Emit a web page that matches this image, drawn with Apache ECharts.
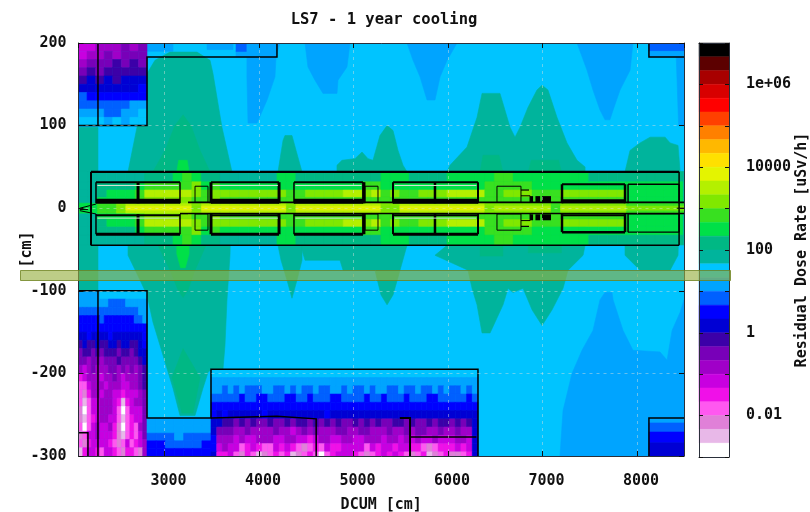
<!DOCTYPE html>
<html><head><meta charset="utf-8">
<style>html,body{margin:0;padding:0;background:#fff}#c{width:810px;height:512px}</style>
<script src="https://cdn.jsdelivr.net/npm/echarts@6/dist/echarts.min.js"></script>
</head><body><div id="c"></div>
<script>
const titleText = 'LS7 - 1 year cooling';
const xName = 'DCUM [cm]', yName = '[cm]', barName = 'Residual Dose Rate [uSv/h]';
// colour-bar bands top to bottom; one band = one third of a decade
const bandColors = ['#000000','#5c0000','#a80000','#d80000','#ff0000','#ff4000','#ff8000','#ffb800','#ffe000','#e4f400','#b4f000','#80e800','#38e020','#00e048','#00b884','#00b49c','#00c4ff','#00a4ff','#0060ff','#0000ff','#0000d4','#3c00a8','#7800b8','#a000c8','#c800e0','#f010e8','#ff58f0','#e080d8','#e8b8e8','#ffffff'];
// level letters, base 30: index into bandColors. f teal, g cyan, h light blue ...
const baseLevel = 'g';

// ---- contour regions [x cm, y cm]
const tealWall = [[2090,98],[2296,98],[2296,-100],[2090,-100]];
const tealHump1 = [[2614,44],[2709,98],[2815,163],[2899,179],[3058,189],[3344,189],[3482,179],[3513,163],[3608,98],[3714,44],[3693,-57],[3661,-111],[3640,-166],[3619,-195],[3492,-195],[3460,-199],[3407,-218],[3323,-251],[3164,-251],[3090,-218],[2984,-178],[2878,-138],[2815,-105],[2741,-87],[2614,-57]];
const tealHump2 = [[4201,44],[4254,82],[4275,88],[4349,88],[4392,70],[4455,44],[4455,-63],[4402,-87],[4349,-109],[4296,-87],[4233,-63],[4201,-45]];
const tealHump3 = [[4825,44],[4825,52],[4878,58],[5016,60],[5090,68],[5153,60],[5206,58],[5280,88],[5355,100],[5418,94],[5471,70],[5524,52],[5566,44],[5566,-45],[5492,-75],[5418,-105],[5355,-117],[5291,-105],[5227,-75],[4889,-75],[4857,-63],[4487,-63],[4455,-51],[4455,-45]];
const tealHump4 = [[5990,44],[6021,52],[6201,74],[6307,110],[6360,139],[6550,139],[6656,98],[6709,86],[6762,98],[6846,122],[6941,143],[6995,149],[7058,143],[7153,110],[7259,79],[7365,58],[7450,50],[7450,-45],[7429,-57],[7270,-75],[7217,-97],[7101,-123],[6995,-142],[6889,-123],[6794,-97],[6688,-102],[6635,-97],[6582,-117],[6445,-151],[6360,-151],[6307,-117],[6254,-97],[6211,-75],[5862,-57],[5990,-45]];
const tealHump5 = [[7873,44],[7926,70],[8032,79],[8138,86],[8297,86],[8350,79],[8434,76],[8456,44],[8434,-57],[8350,-75],[8032,-75],[7873,-57]];
const greenHump1 = [[2878,44],[3005,70],[3111,100],[3196,113],[3280,100],[3376,70],[3482,44],[3439,-45],[3323,-75],[3249,-99],[3196,-108],[3143,-99],[3058,-75],[2931,-45]];
const greenHump1Low = [[3196,-170],[3376,-205],[3302,-248],[3185,-248],[3080,-205]];
const greenHump4a = [[6340,44],[6370,64],[6540,64],[6580,44],[6580,-58],[6340,-58]];
const greenHump4b = [[6850,44],[6880,58],[7170,58],[7200,44],[7200,-54],[6850,-54]];
const brightCol1 = [[3130,44],[3150,58],[3240,58],[3260,44],[3260,-55],[3220,-72],[3170,-72],[3130,-55]];
const blueTop1 = [[3872,200],[4222,200],[4180,183],[4169,159],[4085,131],[3979,103],[3884,103],[3872,159]];
const blueTop2 = [[4487,200],[4963,200],[4931,171],[4836,155],[4825,139],[4677,139],[4592,155],[4518,171]];
const blueTop3 = [[5566,200],[6095,200],[5990,179],[5916,159],[5862,131],[5778,131],[5704,159],[5630,179]];
const blueTop4 = [[7365,200],[7957,200],[7926,167],[7820,143],[7747,119],[7713,107],[7661,107],[7608,119],[7534,143],[7471,167]];
const blueRight = [[8415,183],[8497,183],[8497,100],[8440,100]];
const blueBottom = [[7185,-300],[7217,-245],[7312,-200],[7418,-172],[7534,-148],[7608,-111],[7661,-102],[7735,-102],[7747,-111],[7852,-148],[7957,-172],[8243,-174],[8318,-184],[8371,-148],[8456,-126],[8497,-111],[8497,-300]];
const contourRegions = [
  ['h',blueTop1],['h',blueTop2],['h',blueTop3],['h',blueTop4],['h',blueRight],['h',blueBottom],
  ['f',tealWall],['f',tealHump1],['f',tealHump2],['f',tealHump3],['f',tealHump4],['f',tealHump5],
  ['e',greenHump1],['e',greenHump1Low],['e',greenHump4a],['e',greenHump4b],['d',brightCol1]
];
// [x0,x1,yTop,yBottom,level]
const stripPatches = [
  [2815,3090,200,190,'h'],[3450,3725,200,192,'h'],[3757,4190,200,189,'i'],[3757,4190,189,183,'h'],
  [8126,8497,200,190,'i'],[8126,8497,190,183,'h'],
  [8126,8497,-254,-260,'h'],[8126,8497,-260,-271,'i'],[8126,8497,-271,-284,'j'],[8126,8497,-284,-300,'k']
];

// ---- noisy shielded boxes, one string per 10 cm row
const boxTopLeft = {x:2090,dx:90.6,y:200,dy:10,rows:[
 'oonnnmnm','onnmnmmm','nmmmlmlm','mlmlllll','lklklkkk','kkkkkkkj','ijjjjjjj','iiiiiihh','hhhiihhg','ggghghgg']};
const boxBottomLeft = {x:2090,dx:45.3,y:-100,dy:10,rows:[
 'hhhhhggggggggggg','hhhhhhhiiiihhhhh','iiiiiiiiiiiiiihh','jjjjjijjjjjjjiih','jjjjjjjjjjjjjjjj',
 'kkjkkkkjkkkkkkkj','lkllkllkklkkllkj','mllmlmlllmllmlkk','mmnmmnmmmlmmmmlk','nonmnnnmmnmnmnml',
 'ponnnonnmnonnnml','qqonnnonnnoonnml','qrpnnonnoopooonm','qsqoonnnopsponnm','rtqoonnnoqtqooom',
 'rsqponnooqsqpoom','qtqonoonprtqpqnm','rqoonoooprsqpqom','qrpoooopqrqoqpon','spoopqoopqrppqrn']};
const boxGap = {x:2815,dx:96.8,y:-254,dy:9.2,rows:['hhhhhhh','hhhhhhh','iiihiii','jjiiiij','jjjjjjj']};
const boxMiddle = {x:3492,dx:60.1,y:-195,dy:10,rows:[
 'ggggggggggggggggggggggggggggggggggggggggggggggg',
 'hhhhhhhhhhhhhhhhhhhhhhhhhhhhhhhhhhhhhhhhhhhhhhh',
 'hhihihiiihhiihihiihiihhihiihihhiihiihiihihiihih',
 'iiiiijiijjiiijjiijiiijjiiiijiijiiijiiijjiiiiiji',
 'jjjjjjjjjjjjjjjjjjjjjjjjjjjjjjjjjjjjjjjjjjjjjjj',
 'jkjkkkkkkjkkkkkkkkkkjkkkkkkkkkkkkkkkkkkkkkkkkkk',
 'kkllmlmlmmlmmlmllmlmlmlmmlmlmlmmllmlmmlmllmlmlk',
 'kmmmnnmnnnnmnnonmnmnnnmmnnmmnnnmnnmnmmnnmnnmnnk',
 'jnnnonoonnnoonnooponnoonnoonnnonnononoonooonnok',
 'jonooqpopqqopopqrqpqoppooooqopoopooppqrqpppopok',
 'kppoqrpqsrqpqpsrqpqtqpooopqrqpopopqrqpsrqprrqpk']};

// ---- central strip (|y| < 45), one 65-column string per y range, mirrored below the axis
const coreX0 = 2090, coreDx = 100;
const coreRowEdges = [44.5,32,22,13,6,2.5,0];
const coreRowA = ['ff','fffff','eee','d','c','d','ee','ffffff','dd','eeeeee','eee','ddd','eeee','ddddd','cc','dddddddd','eeeeeeeeee','f'].join('');
const coreRowB = ['ff','eeee','d','cccc','cb','dc','ddddddd','d','ddddddd','cc','dddd','ddddddd','cc','ccc','ddd','ddddddd','dddddd','f'].join('');
const coreRowC = ['ff','eddd','c','aaaaa','b','cb','bbbbbbb','c','cbbbbaa','ba','cbcc','bbbaaaa','cc','bbb','ccc','bbbbbbb','dddddd','f'].join('');
const coreRowD = ['ff','dddd','c','bbbbb','c','cb','ccccccc','c','ccccccc','cc','cccc','ccccccc','cc','ccc','ccc','ccccccc','dddddd','f'].join('');
const coreRowE = ['ddccb','aaaaaaa','b','aaaaaaaaa','b','aaaaaaaaa','bb','aaaaaaaaa','b','bbbbbb','c','bbbbbbb','ccccccc'].join('');
const coreRowF = ['ddccb','9999999','b','999999999','b','999999999','bb','999999999','b','aaaaaa','c','aaaaaaa','bbbbbbb'].join('');
const coreRows = [coreRowA,coreRowB,coreRowC,coreRowD,coreRowE,coreRowF];

// ---- black outlines, data coordinates: [width, points]
const shieldLines = [
 [1.5,[[2090,100],[2815,100],[2815,183],[4190,183],[4190,200]]],
 [1.5,[[2296,200],[2296,100]]],
 [1.5,[[8126,200],[8126,183],[8497,183]]],
 [1.5,[[2090,-100],[2815,-100],[2815,-254],[3492,-254],[3492,-195],[6317,-195],[6317,-300]]],
 [1.5,[[2296,-100],[2296,-300]]],
 [1.5,[[3492,-254],[4190,-252],[4605,-255],[4605,-300]]],
 [1.5,[[2090,-272],[2190,-272],[2190,-300]]],
 [2,[[5490,-254],[5598,-254],[5598,-300]]],
 [1.5,[[5598,-277],[6300,-277]]],
 [1.5,[[8126,-300],[8126,-254],[8497,-254]]]
];
const beamLines = [
 [2.2,[[2222,44],[8445,44]]],[2,[[2222,44],[2222,-45]]],[1.5,[[2222,-45],[8445,-45]]],[1.5,[[8445,44],[8445,-45]]],
 [1.6,[[3249,7],[8497,7]]],[1.6,[[3249,-6.5],[8497,-6.5]]],[1.6,[[3164,-6.5],[3249,-6.5]]],
 [1,[[2105,0],[2275,5]]],[1,[[2105,-3],[2275,-7]]],[1,[[2105,-1.5],[2190,-1.5]]],[1,[[8420,0],[8497,0]]],
 [1.2,[[6772,22],[6857,22]]],[1.2,[[6772,-22],[6857,-22]]],
 [6,[[6868,11],[6900,11]]],[6,[[6925,11],[6975,11]]],[6,[[6995,11],[7090,11]]],
 [6,[[6868,-11],[6900,-11]]],[6,[[6925,-11],[6975,-11]]],[6,[[6995,-11],[7090,-11]]],
 [1,[[6772,15],[6868,15],[6868,7]]],[1,[[6772,-15],[6868,-15],[6868,-7]]]
];
// x0, x1, outer y, side width, top width, inner width, lower outer width, lower inner width, inner y
const magnets = [
 [2275,3164,31.5,1.5,2,5,3,2,8.5],[3492,4212,31.5,3,2,5,3,2,8.5],[4370,5100,31.5,1.5,2,5,3,2,8.5],
 [5418,6317,31.5,2,2,5,3,2,8.5],[7206,7873,29,2.5,2,4,2.5,2,8.5],[7905,8445,29,1.5,1.6,1,1.2,1,7]
];
const magnetDividers = [[2720,3],[5110,3],[5862,2.5]];
const thinBoxes = [[3323,3460],[5122,5259],[6518,6772]];
const paleLines = [[2290,3150],[3510,4200],[4385,5085],[5435,6300]];

// ---- assemble
const lv = c => parseInt(c,30);
const regionShapes = contourRegions.map(r => ({l:lv(r[0]), p:r[1]}));
const patchShapes = stripPatches.map(r => ({l:lv(r[4]), p:[[r[0],r[2]],[r[1],r[2]],[r[1],r[3]],[r[0],r[3]]]}));
function gridShapes(b){
  const out=[]; const n=Math.max.apply(null,b.rows.map(s=>s.length));
  b.rows.forEach((s,j)=>{ for(let i=0;i<n;i++){ const c=s[Math.min(i,s.length-1)];
    const x0=b.x+i*b.dx,x1=x0+b.dx,y0=b.y-j*b.dy,y1=y0-b.dy;
    out.push({l:lv(c),p:[[x0,y0],[x1,y0],[x1,y1],[x0,y1]]}); }});
  return out;
}
function coreShapes(){
  const out=[];
  coreRows.forEach((s,j)=>{ for(let i=0;i<65;i++){ const c=s[Math.min(i,s.length-1)];
    const x0=coreX0+i*coreDx,x1=x0+coreDx,a=coreRowEdges[j],b=coreRowEdges[j+1];
    out.push({l:lv(c),p:[[x0,a],[x1,a],[x1,b],[x0,b]]});
    out.push({l:lv(c),p:[[x0,-b],[x1,-b],[x1,-a],[x0,-a]]}); }});
  return out;
}
const fieldShapes = [{l:lv(baseLevel),p:[[2090,200],[8497,200],[8497,-300],[2090,-300]]}]
  .concat(patchShapes.slice(0,4), regionShapes, coreShapes(), patchShapes.slice(4),
    gridShapes(boxTopLeft), gridShapes(boxBottomLeft), gridShapes(boxGap), gridShapes(boxMiddle));

const lines = shieldLines.concat(beamLines).map(l=>({w:l[0],p:l[1],c:'#000'}));
magnets.forEach(m=>{
  const [x0,x1,oy,s,t,iw,lo,li,iy]=m;
  lines.push({w:t,p:[[x0,oy],[x1,oy]],c:'#000'},{w:iw,p:[[x0,iy],[x1,iy]],c:'#000'},
    {w:s,p:[[x0,oy],[x0,6]],c:'#000'},{w:s,p:[[x1,oy],[x1,6]],c:'#000'},
    {w:lo,p:[[x0,-oy],[x1,-oy]],c:'#000'},{w:li,p:[[x0,-iy],[x1,-iy]],c:'#000'},
    {w:s,p:[[x0,-oy],[x0,-7]],c:'#000'},{w:s,p:[[x1,-oy],[x1,-7]],c:'#000'});
});
magnetDividers.forEach(d=>{ lines.push({w:d[1],p:[[d[0],31.5],[d[0],6]],c:'#000'},{w:d[1],p:[[d[0],-31.5],[d[0],-7]],c:'#000'}); });
thinBoxes.forEach(b=>{ [1,-1].forEach(k=>lines.push({w:1,p:[[b[0],26.6*k],[b[1],26.6*k],[b[1],7*k],[b[0],7*k],[b[0],26.6*k]],c:'#000'})); });
paleLines.forEach(b=>{ lines.push({w:1,p:[[b[0],27.5],[b[1],27.5]],c:'#d4e4d4'},{w:1,p:[[b[0],-12],[b[1],-12]],c:'#d4e4d4'}); });

const mono = 'DejaVu Sans Mono';
const lab = {fontFamily:mono,fontWeight:'bold',fontSize:15,color:'#111'};
const tickStyle = {color:'#111',width:1};
const lineDark = {color:'#2a2f3a',width:1};
const gridDash = {color:'rgba(222,226,222,0.45)',width:1,type:[3,4]};
const barExp = {'-2':'0.01','0':'1','2':'100','4':'10000','6':'1e+06'};

const chart = echarts.init(document.getElementById('c'),null,{renderer:'canvas'});
chart.setOption({
  animation:false,
  title:{text:titleText,left:379,top:7,textAlign:'center',textStyle:{fontFamily:mono,fontWeight:'bold',fontSize:15.5,color:'#111'}},
  grid:[{left:78.5,right:126,top:43,bottom:56,outerBoundsMode:'none'},{left:699,right:81,top:43,bottom:55,outerBoundsMode:'none'}],
  xAxis:[
    {type:'value',gridIndex:0,min:2090,max:8497,splitNumber:6,name:xName,nameLocation:'middle',nameGap:42,nameMoveOverlap:false,nameTextStyle:lab,
     axisLine:{onZero:false,lineStyle:lineDark},axisTick:{inside:true,length:5,lineStyle:tickStyle},
     axisLabel:Object.assign({margin:18,showMinLabel:false,showMaxLabel:false,padding:[0,0,0,8],formatter:v=>(v%1000===0?String(v):'')},lab),
     splitLine:{show:true,lineStyle:gridDash}},
    {type:'value',gridIndex:0,min:2090,max:8497,splitNumber:6,position:'top',
     axisLine:{onZero:false,lineStyle:lineDark},axisTick:{inside:true,length:5,lineStyle:tickStyle},axisLabel:{show:false},splitLine:{show:false}},
    {type:'value',gridIndex:1,min:0,max:1,axisLine:{onZero:false,lineStyle:lineDark},axisTick:{show:false},axisLabel:{show:false},splitLine:{show:false}},
    {type:'value',gridIndex:1,min:0,max:1,position:'top',axisLine:{onZero:false,lineStyle:lineDark},axisTick:{show:false},axisLabel:{show:false},splitLine:{show:false}}
  ],
  yAxis:[
    {type:'value',gridIndex:0,min:-300,max:200,interval:100,name:yName,nameLocation:'middle',nameRotate:90,nameGap:44,nameMoveOverlap:false,nameTextStyle:lab,
     axisLine:{onZero:false,lineStyle:lineDark},axisTick:{inside:true,length:5,lineStyle:tickStyle},axisLabel:Object.assign({margin:12,padding:[6,0,0,0]},lab),
     splitLine:{show:true,lineStyle:gridDash}},
    {type:'value',gridIndex:0,min:-300,max:200,interval:100,position:'right',
     axisLine:{onZero:false,lineStyle:lineDark},axisTick:{inside:true,length:5,lineStyle:tickStyle},axisLabel:{show:false},splitLine:{show:false}},
    {type:'value',gridIndex:1,min:-3,max:7,interval:1,position:'right',name:barName,nameLocation:'middle',nameRotate:90,nameGap:66,nameMoveOverlap:false,nameTextStyle:lab,
     axisLine:{onZero:false,lineStyle:lineDark},axisTick:{inside:true,length:4,lineStyle:tickStyle},
     axisLabel:Object.assign({margin:17,padding:[7,0,0,0],interval:0,hideOverlap:false,formatter:v=>barExp[v]||''},lab),splitLine:{show:false}},
    {type:'value',gridIndex:1,min:-3,max:7,interval:1,position:'left',
     axisLine:{onZero:false,lineStyle:lineDark},axisTick:{inside:true,length:4,lineStyle:tickStyle},axisLabel:{show:false},splitLine:{show:false}}
  ],
  series:[
    {type:'custom',name:'field',xAxisIndex:0,yAxisIndex:0,z:-2,clip:true,silent:true,progressive:0,
     data:fieldShapes.map((s,i)=>[i]),encode:{x:[],y:[]},
     renderItem:(p,api)=>{const s=fieldShapes[p.dataIndex];const c=bandColors[s.l];
       return {type:'polygon',shape:{points:s.p.map(q=>api.coord(q))},style:{fill:c,stroke:c,lineWidth:0.6}};}},
    {type:'custom',name:'outlines',xAxisIndex:0,yAxisIndex:0,z:-1,clip:true,silent:true,progressive:0,
     data:lines.map((s,i)=>[i]),encode:{x:[],y:[]},
     renderItem:(p,api)=>{const s=lines[p.dataIndex];
       return {type:'polyline',shape:{points:s.p.map(q=>api.coord(q))},style:{fill:'none',stroke:s.c,lineWidth:s.w}};}},
    {type:'custom',name:'bar',xAxisIndex:2,yAxisIndex:2,z:-2,silent:true,progressive:0,
     data:bandColors.map((c,i)=>[i]),encode:{x:[],y:[]},
     renderItem:(p,api)=>{const i=p.dataIndex,c=bandColors[i],hi=7-i/3,lo=7-(i+1)/3;
       return {type:'polygon',shape:{points:[api.coord([0,hi]),api.coord([1,hi]),api.coord([1,lo]),api.coord([0,lo])]},style:{fill:c,stroke:c,lineWidth:0.5}};}}
  ],
  graphic:[{type:'rect',z:100,silent:true,shape:{x:20.5,y:270.5,width:710,height:10},
    style:{fill:'rgba(150,176,65,0.63)',stroke:'rgba(110,130,30,0.8)',lineWidth:1}}]
});
</script></body></html>
